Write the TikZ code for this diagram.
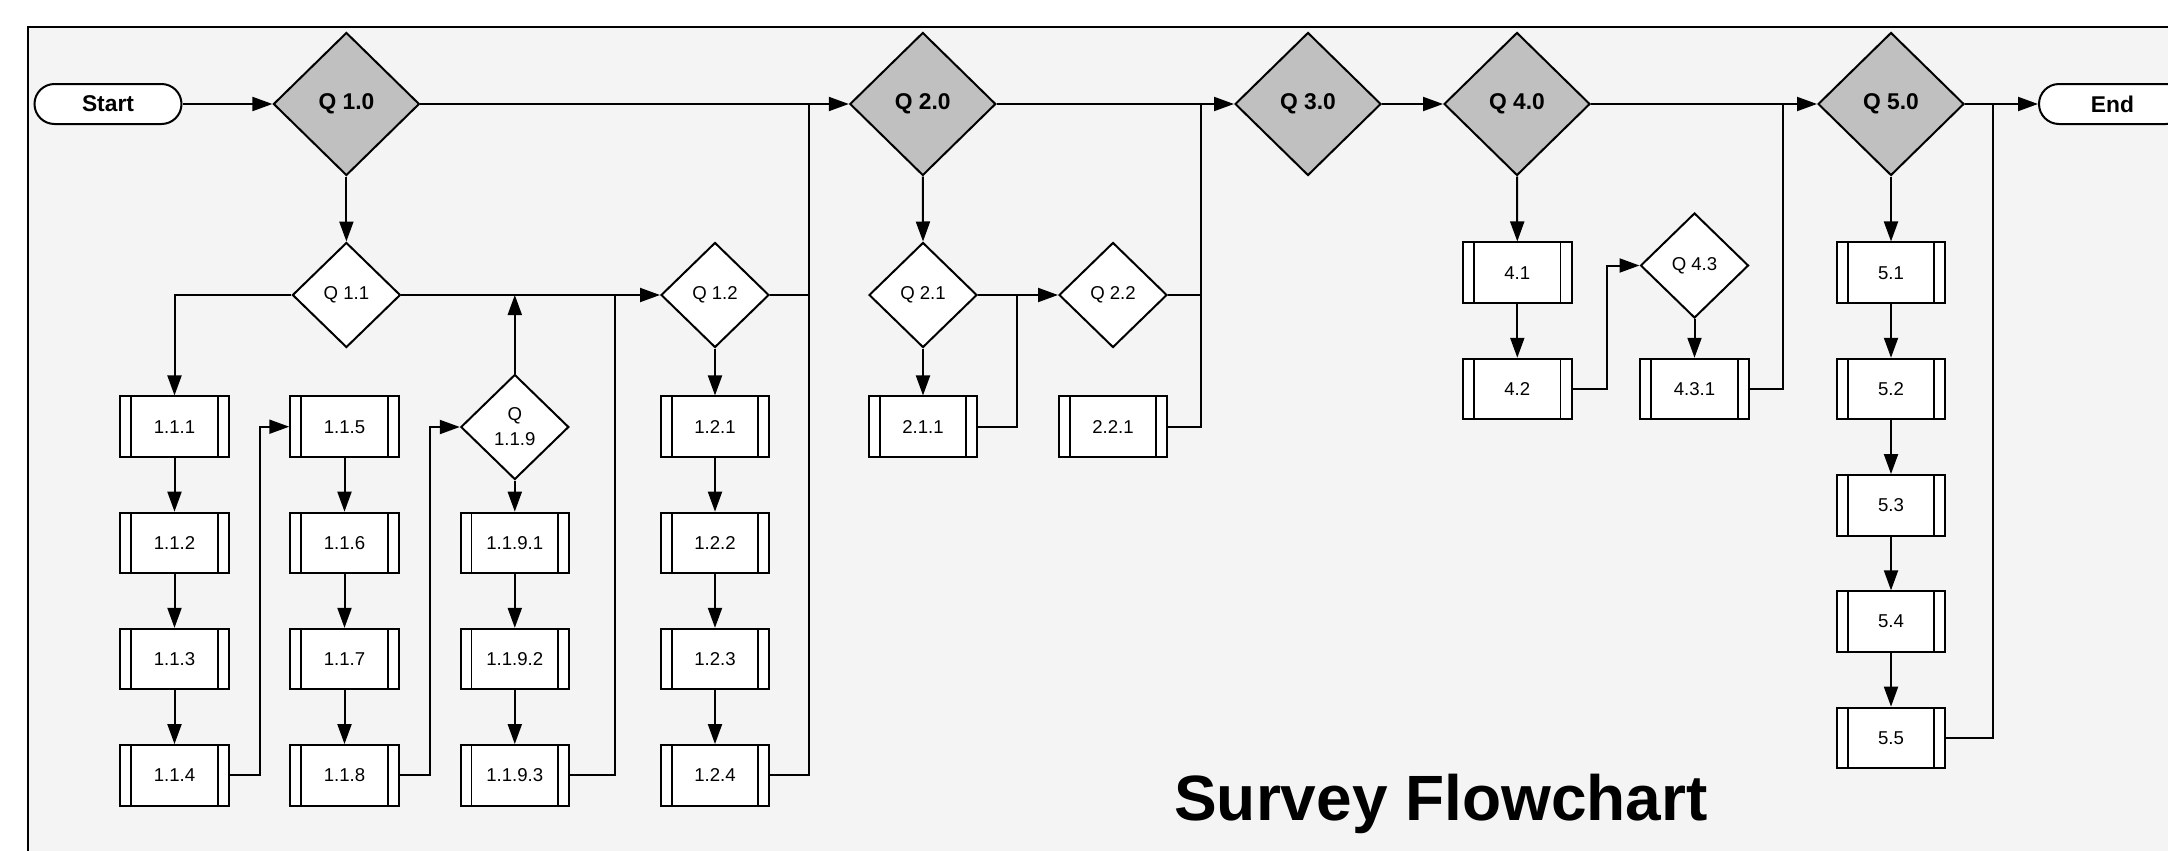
\documentclass[tikz,border=0pt]{standalone}
\usepackage{fontspec}
\setmainfont{Liberation Sans}
\usetikzlibrary{shapes.geometric,arrows.meta,calc}
\definecolor{qgray}{HTML}{C0C0C0}
\definecolor{panel}{HTML}{F4F4F4}

\begin{document}
\begin{tikzpicture}[x=0.5pt,y=-0.5pt,
  conn/.style={line width=1pt},
  arr/.style={conn,-{Triangle[length=10pt,width=7pt]}},
  bigq/.style={diamond,draw,line width=1pt,fill=qgray,minimum width=73pt,minimum height=71.5pt,inner sep=0pt,
    font=\fontsize{11.4}{13}\selectfont\bfseries},
  smallq/.style={diamond,draw,line width=1pt,fill=white,minimum width=54pt,minimum height=52.5pt,inner sep=0pt,
    font=\fontsize{9.3}{12.5}\selectfont,align=center},
  proc/.style={rectangle,draw,line width=1pt,fill=white,minimum width=54.25pt,minimum height=30.25pt,inner sep=0pt,
    font=\fontsize{9.3}{11}\selectfont,
    path picture={\draw[line width=0.9pt]
      ([xshift=5.5pt]path picture bounding box.north west) -- ([xshift=5.5pt]path picture bounding box.south west)
      ([xshift=-5.5pt]path picture bounding box.north east) -- ([xshift=-5.5pt]path picture bounding box.south east);}},
  term/.style={rectangle,rounded corners=10pt,draw,line width=1pt,fill=white,minimum width=73.5pt,minimum height=20pt,
    inner sep=0pt,font=\fontsize{11.4}{13}\selectfont\bfseries}
]
\useasboundingbox (0,0) rectangle (2168,851);
\clip (0,0) rectangle (2168,851);
\fill[white] (0,0) rectangle (2168,851);
\draw[line width=1pt,fill=panel] (28,26.7) rectangle (2200,900);

% main line of questions
\node[term] (start) at (108,104) {Start};
\node[bigq] (q10) at (346.4,104) {Q 1.0};
\node[bigq] (q20) at (922.8,104) {Q 2.0};
\node[bigq] (q30) at (1308,104) {Q 3.0};
\node[bigq] (q40) at (1517,104) {Q 4.0};
\node[bigq] (q50) at (1891,104) {Q 5.0};
\node[term] (end) at (2112.5,104) {End};

% sub-questions
\node[smallq] (q11) at (346.4,295) {Q 1.1};
\node[smallq] (q12) at (715,295) {Q 1.2};
\node[smallq] (q21) at (923,295) {Q 2.1};
\node[smallq] (q22) at (1113,295) {Q 2.2};
\node[smallq] (q119) at (514.8,427) {Q\\1.1.9};
\node[smallq] (q43) at (1694.5,265.5) {Q 4.3};

% process boxes
\node[proc] (b111) at (174.5,426.7) {1.1.1};
\node[proc] (b112) at (174.5,542.9) {1.1.2};
\node[proc] (b113) at (174.5,659.1) {1.1.3};
\node[proc] (b114) at (174.5,775.3) {1.1.4};
\node[proc] (b115) at (344.5,426.7) {1.1.5};
\node[proc] (b116) at (344.5,542.9) {1.1.6};
\node[proc] (b117) at (344.5,659.1) {1.1.7};
\node[proc] (b118) at (344.5,775.3) {1.1.8};
\node[proc] (b1191) at (514.8,542.9) {1.1.9.1};
\node[proc] (b1192) at (514.8,659.1) {1.1.9.2};
\node[proc] (b1193) at (514.8,775.3) {1.1.9.3};
\node[proc] (b121) at (715,426.7) {1.2.1};
\node[proc] (b122) at (715,542.9) {1.2.2};
\node[proc] (b123) at (715,659.1) {1.2.3};
\node[proc] (b124) at (715,775.3) {1.2.4};
\node[proc] (b211) at (923,426.7) {2.1.1};
\node[proc] (b221) at (1113,426.7) {2.2.1};
\node[proc] (b41) at (1517.3,272.7) {4.1};
\node[proc] (b42) at (1517.3,389) {4.2};
\node[proc] (b431) at (1694.5,389) {4.3.1};
\node[proc] (b51) at (1891,272.7) {5.1};
\node[proc] (b52) at (1891,389) {5.2};
\node[proc] (b53) at (1891,505.3) {5.3};
\node[proc] (b54) at (1891,621.6) {5.4};
\node[proc] (b55) at (1891,737.9) {5.5};

% junction points where return lines meet
\coordinate (j1) at (615,295);
\coordinate (j2) at (809,104);
\coordinate (j3) at (1017.4,295);
\coordinate (j4) at (1201.3,104);
\coordinate (j5) at (1782.8,104);
\coordinate (j6) at (1993.2,104);

% main flow
\draw[arr] (start) -- (q10);
\draw[arr] (q10.east) -- (q20.west);
\draw[arr] (q20.east) -- (q30.west);
\draw[arr] (q30.east) -- (q40.west);
\draw[arr] (q40.east) -- (q50.west);
\draw[arr] (q50.east) -- (end.west);

% section 1
\draw[arr] (q10.south) -- (q11.north);
\draw[arr] (q11.west) -| (b111.north);
\draw[arr] (q11.east) -- (q12.west);
\draw[arr] (b111) -- (b112);
\draw[arr] (b112) -- (b113);
\draw[arr] (b113) -- (b114);
\draw[arr] (b114.east) -- ++(30,0) |- (b115.west);
\draw[arr] (b115) -- (b116);
\draw[arr] (b116) -- (b117);
\draw[arr] (b117) -- (b118);
\draw[arr] (b118.east) -- ++(30,0) |- (q119.west);
\draw[arr] (q119.north) -- (q119.north |- q11.east);
\draw[arr] (q119.south) -- (b1191.north);
\draw[arr] (b1191) -- (b1192);
\draw[arr] (b1192) -- (b1193);
\draw[conn] (b1193.east) -| (j1);
\draw[arr] (q12.south) -- (b121.north);
\draw[arr] (b121) -- (b122);
\draw[arr] (b122) -- (b123);
\draw[arr] (b123) -- (b124);
\draw[conn] (q12.east) -- (q12.east -| j2);
\draw[conn] (b124.east) -| (j2);

% section 2
\draw[arr] (q20.south) -- (q21.north);
\draw[arr] (q21.south) -- (b211.north);
\draw[arr] (q21.east) -- (q22.west);
\draw[conn] (b211.east) -| (j3);
\draw[conn] (q22.east) -- (q22.east -| j4);
\draw[conn] (b221.east) -| (j4);

% section 4
\draw[arr] (q40.south) -- (b41.north);
\draw[arr] (b41) -- (b42);
\draw[arr] (b42.east) -- ++(34.3,0) |- (q43.west);
\draw[arr] (q43.south) -- (b431.north);
\draw[conn] (b431.east) -| (j5);

% section 5
\draw[arr] (q50.south) -- (b51.north);
\draw[arr] (b51) -- (b52);
\draw[arr] (b52) -- (b53);
\draw[arr] (b53) -- (b54);
\draw[arr] (b54) -- (b55);
\draw[conn] (b55.east) -| (j6);

\node[font=\fontsize{32}{36}\selectfont\bfseries,anchor=base,inner sep=0pt] (title) at (1441,820.7) {Survey Flowchart};
\end{tikzpicture}
\end{document}
